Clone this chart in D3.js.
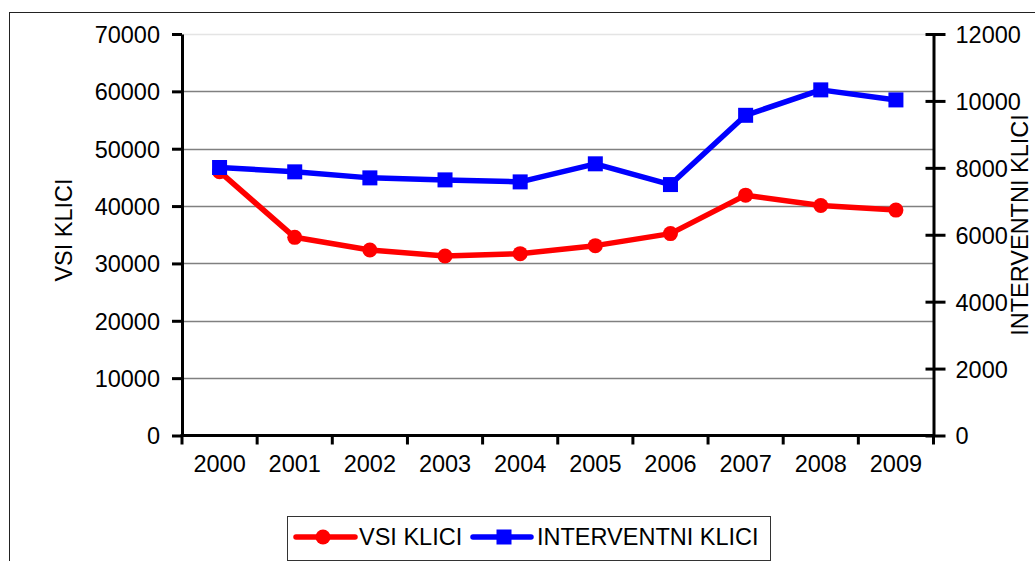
<!DOCTYPE html>
<html><head><meta charset="utf-8">
<script src="https://cdn.jsdelivr.net/npm/d3@7"></script>
<style>
html,body{margin:0;padding:0;background:#fff;overflow:hidden}
text{font-family:"Liberation Sans",Arial,sans-serif;fill:#000}
</style></head>
<body>
<svg id="c" width="1035" height="561"></svg>
<script>
const years = ["2000","2001","2002","2003","2004","2005","2006","2007","2008","2009"];
const vsiKlici = [46000,34550,32350,31300,31700,33100,35200,41900,40100,39300];
const interventniKlici = [8010,7880,7700,7640,7580,8120,7500,9570,10330,10030];
const leftTicks = [0,10000,20000,30000,40000,50000,60000,70000];
const rightTicks = [0,2000,4000,6000,8000,10000,12000];
const seriesNames = ["VSI KLICI","INTERVENTNI KLICI"];
const leftTitle = "VSI KLICI";
const rightTitle = "INTERVENTNI KLICI";

const FS = "23.5px";
const svg = d3.select("#c");

// outer frame
svg.append("rect").attr("x",9.5).attr("y",12.5).attr("width",1100).attr("height",600)
  .attr("fill","none").attr("stroke","#222").attr("stroke-width",1);

const L = 182, R = 933.5, T = 34, B = 435.5;
const x = d3.scaleBand().domain(years).range([L,R]);
const yL = d3.scaleLinear().domain([0,70000]).range([B,T]);
const yR = d3.scaleLinear().domain([0,12000]).range([B,T]);

// gridlines
svg.append("g").selectAll("line").data(leftTicks.filter(d=>d>0)).join("line")
  .attr("x1",L).attr("x2",R).attr("y1",d=>Math.round(yL(d))+0.5).attr("y2",d=>Math.round(yL(d))+0.5)
  .attr("stroke",d=>d===70000?"#e4e4e4":"#808080").attr("stroke-width",1.3);

// left axis
const gL = svg.append("g").attr("transform",`translate(${L},0)`)
  .call(d3.axisLeft(yL).tickValues(leftTicks).tickFormat(d3.format("d")).tickSize(10).tickSizeOuter(0).tickPadding(12));
gL.select(".domain").attr("stroke","#000").attr("stroke-width",3);
gL.selectAll(".tick line").attr("stroke","#000").attr("stroke-width",3);
gL.selectAll(".tick text").style("font-size",FS).attr("dy","0.36em");

// right axis
const gR = svg.append("g").attr("transform",`translate(${R},0)`)
  .call(d3.axisRight(yR).tickValues(rightTicks).tickFormat(d3.format("d")).tickSize(12).tickSizeOuter(0).tickPadding(10));
gR.select(".domain").attr("stroke","#000").attr("stroke-width",3);
gR.selectAll(".tick line").attr("x1",-8).attr("x2",12).attr("stroke","#000").attr("stroke-width",3);
gR.selectAll(".tick text").style("font-size",FS).attr("dy","0.36em");

// bottom axis
const gB = svg.append("g").attr("transform",`translate(0,${B})`)
  .call(d3.axisBottom(x).tickSize(0).tickPadding(20));
gB.select(".domain").remove();
gB.selectAll(".tick text").style("font-size",FS).attr("dy","0.71em");
svg.append("line").attr("x1",L-1.5).attr("x2",R+1.5).attr("y1",B).attr("y2",B)
  .attr("stroke","#000").attr("stroke-width",3);
const bounds = years.map(d=>x(d)).concat([x(years[years.length-1])+x.bandwidth()]);
svg.append("g").selectAll("line").data(bounds).join("line")
  .attr("x1",d=>d).attr("x2",d=>d).attr("y1",B).attr("y2",B+9)
  .attr("stroke","#000").attr("stroke-width",3);

// axis titles
svg.append("text").attr("transform",`translate(72,230) rotate(-90)`).attr("text-anchor","middle")
  .style("font-size",FS).text(leftTitle);
svg.append("text").attr("transform",`translate(1028,225) rotate(-90)`).attr("text-anchor","middle")
  .style("font-size",FS).text(rightTitle);

const cx = d => x(d) + x.bandwidth()/2;

// VSI line (red)
svg.append("path").datum(vsiKlici)
  .attr("d", d3.line().x((d,i)=>cx(years[i])).y(d=>yL(d)))
  .attr("fill","none").attr("stroke","#ff0000").attr("stroke-width",5.5).attr("stroke-linejoin","round");
svg.append("g").selectAll("circle").data(vsiKlici).join("circle")
  .attr("cx",(d,i)=>cx(years[i])).attr("cy",d=>yL(d)).attr("r",7.5).attr("fill","#ff0000");

// Interventni line (blue)
svg.append("path").datum(interventniKlici)
  .attr("d", d3.line().x((d,i)=>cx(years[i])).y(d=>yR(d)))
  .attr("fill","none").attr("stroke","#0000ff").attr("stroke-width",5.5).attr("stroke-linejoin","round");
svg.append("g").selectAll("rect").data(interventniKlici).join("rect")
  .attr("x",(d,i)=>cx(years[i])-7.5).attr("y",d=>yR(d)-7.5).attr("width",15).attr("height",15).attr("fill","#0000ff");

// legend
const lg = svg.append("g");
lg.append("rect").attr("x",287.5).attr("y",516.5).attr("width",483).attr("height",44)
  .attr("fill","#fff").attr("stroke","#333").attr("stroke-width",1);
const ly = 537;
lg.append("line").attr("x1",296).attr("x2",355).attr("y1",ly).attr("y2",ly).attr("stroke","#ff0000").attr("stroke-width",5.5).attr("stroke-linecap","round");
lg.append("circle").attr("cx",323).attr("cy",ly).attr("r",7.5).attr("fill","#ff0000");
lg.append("text").attr("x",359).attr("y",ly).attr("dy","0.36em").style("font-size",FS).text(seriesNames[0]);
lg.append("line").attr("x1",473).attr("x2",531).attr("y1",ly).attr("y2",ly).attr("stroke","#0000ff").attr("stroke-width",5.5).attr("stroke-linecap","round");
lg.append("rect").attr("x",496.5).attr("y",ly-7.5).attr("width",15).attr("height",15).attr("fill","#0000ff");
lg.append("text").attr("x",537).attr("y",ly).attr("dy","0.36em").style("font-size",FS).text(seriesNames[1]);
</script>
</body></html>
